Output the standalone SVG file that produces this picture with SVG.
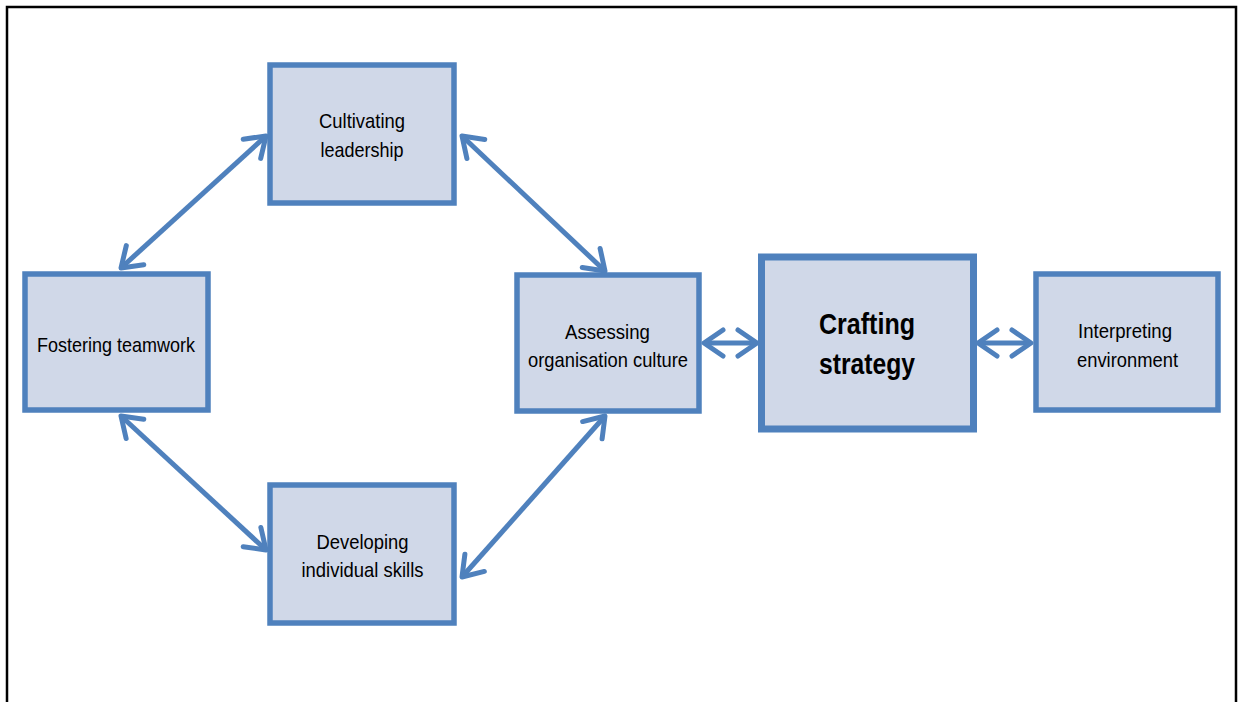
<svg xmlns="http://www.w3.org/2000/svg" width="1240" height="702" viewBox="0 0 1240 702">
<style>
.box{fill:#D0D8E8;stroke:#4F81BD;stroke-width:5.5}
.big{fill:#D0D8E8;stroke:#4F81BD;stroke-width:7}
.lbl{font-family:"Liberation Sans",Arial,sans-serif;font-size:21px;fill:#000;text-anchor:middle}
.blbl{font-family:"Liberation Sans",Arial,sans-serif;font-size:30px;font-weight:bold;fill:#000;text-anchor:middle}
.con{stroke:#4F81BD;stroke-width:5;fill:none;marker-start:url(#ah);marker-end:url(#ah)}
</style>
<defs>
<marker id="ah" markerUnits="userSpaceOnUse" viewBox="-30 -20 40 40" refX="0" refY="0" markerWidth="40" markerHeight="40" orient="auto-start-reverse">
<path d="M-19,-13 L0,0 L-19,13" fill="none" stroke="#4F81BD" stroke-width="5" stroke-linecap="round" stroke-linejoin="round"/>
</marker>
</defs>
<rect x="0" y="0" width="1240" height="702" fill="#fff"/>
<path d="M7,710 V7 H1236 V710" fill="none" stroke="#000" stroke-width="2.5"/>
<g id="connectors">
<line class="con" x1="266" y1="136" x2="121" y2="268"/>
<line class="con" x1="462" y1="136" x2="605" y2="271"/>
<line class="con" x1="121" y1="416" x2="266" y2="550"/>
<line class="con" x1="605" y1="416" x2="462" y2="577"/>
<line class="con" x1="704" y1="343" x2="757" y2="343"/>
<line class="con" x1="978" y1="343" x2="1031" y2="343"/>
</g>
<g id="cultivating">
<rect class="box" x="270" y="65" width="184" height="138"/>
<text class="lbl" x="362" y="128" textLength="86" lengthAdjust="spacingAndGlyphs">Cultivating</text>
<text class="lbl" x="362" y="157" textLength="83" lengthAdjust="spacingAndGlyphs">leadership</text>
</g>
<g id="fostering">
<rect class="box" x="25" y="274" width="183" height="136"/>
<text class="lbl" x="116" y="351.5" textLength="158" lengthAdjust="spacingAndGlyphs">Fostering teamwork</text>
</g>
<g id="assessing">
<rect class="box" x="517" y="275" width="182" height="136"/>
<text class="lbl" x="607.5" y="338.5" textLength="85" lengthAdjust="spacingAndGlyphs">Assessing</text>
<text class="lbl" x="608" y="367" textLength="160" lengthAdjust="spacingAndGlyphs">organisation culture</text>
</g>
<g id="crafting">
<rect class="big" x="761.5" y="257" width="212" height="172"/>
<text class="blbl" x="867" y="333.5" textLength="96" lengthAdjust="spacingAndGlyphs">Crafting</text>
<text class="blbl" x="867" y="374" textLength="96" lengthAdjust="spacingAndGlyphs">strategy</text>
</g>
<g id="interpreting">
<rect class="box" x="1036" y="274" width="182" height="136"/>
<text class="lbl" x="1125" y="337.5" textLength="94" lengthAdjust="spacingAndGlyphs">Interpreting</text>
<text class="lbl" x="1127.5" y="366.5" textLength="101" lengthAdjust="spacingAndGlyphs">environment</text>
</g>
<g id="developing">
<rect class="box" x="270" y="485" width="184" height="138"/>
<text class="lbl" x="362.5" y="548.5" textLength="92" lengthAdjust="spacingAndGlyphs">Developing</text>
<text class="lbl" x="362.5" y="577" textLength="122" lengthAdjust="spacingAndGlyphs">individual skills</text>
</g>
</svg>
